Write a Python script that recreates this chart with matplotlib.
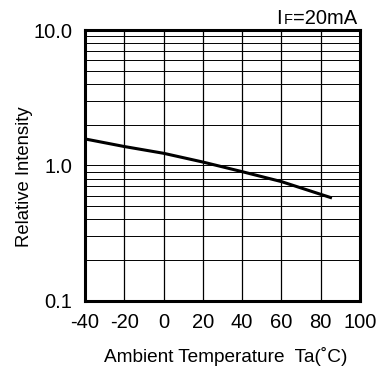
import matplotlib
matplotlib.use("Agg")
import matplotlib.pyplot as plt
import numpy as np

temps = [-40, -20, 0, 20, 40, 60, 85]
intensity = [1.57, 1.38, 1.23, 1.06, 0.90, 0.76, 0.58]
xticks = [-40, -20, 0, 20, 40, 60, 80, 100]
yticks = [0.1, 1.0, 10.0]
ytick_labels = ["0.1", "1.0", "10.0"]

plt.rcParams['font.family'] = ['Liberation Sans', 'DejaVu Sans']

W, H = 390, 371
fig = plt.figure(figsize=(W / 100, H / 100), dpi=100)
ax = fig.add_axes([0.218, 0.189, 0.705, 0.730])
ax.set_yscale('log')
ax.set_xlim(-40, 100)
ax.set_ylim(0.1, 10)

# grid
for x in xticks:
    ax.axvline(x, color='black', lw=0.9, zorder=1)
for dec in [0.1, 1.0]:
    for m in range(1, 10):
        ax.axhline(dec * m, color='black', lw=0.7, zorder=1)

ax.plot(temps, intensity, color='black', lw=2.2, zorder=3)

for s in ax.spines.values():
    s.set_linewidth(2.2)

ax.set_xticks(xticks)
ax.set_xticklabels([str(t) for t in xticks], fontsize=14.5)
ax.set_yticks(yticks)
ax.set_yticklabels(ytick_labels, fontsize=14.5)
ax.yaxis.set_minor_locator(matplotlib.ticker.NullLocator())
ax.tick_params(axis='x', length=0, pad=9)
ax.tick_params(axis='y', length=0, pad=9)

fig.text(225.5 / W, 1 - 362 / H, "Ambient Temperature  Ta(˚C)", fontsize=13.7,
         ha='center', va='baseline')
fig.text(25 / W, 1 - 177 / H, "Relative Intensity", fontsize=13.3,
         ha='center', va='center', rotation=90)

fig.canvas.draw()
r = fig.canvas.get_renderer()
y_base = 1 - 24 / H
t3 = fig.text(357 / W, y_base, "=20mA", fontsize=14.5, ha='right', va='baseline')
bb = t3.get_window_extent(r)
t2 = fig.text(bb.x0 / W - 0.001, y_base, "F", fontsize=10.5, ha='right', va='baseline')
bb2 = t2.get_window_extent(r)
fig.text(bb2.x0 / W - 0.004, y_base, "I", fontsize=14.5, ha='right', va='baseline')

fig.savefig("out.png", dpi=100, facecolor='white')
